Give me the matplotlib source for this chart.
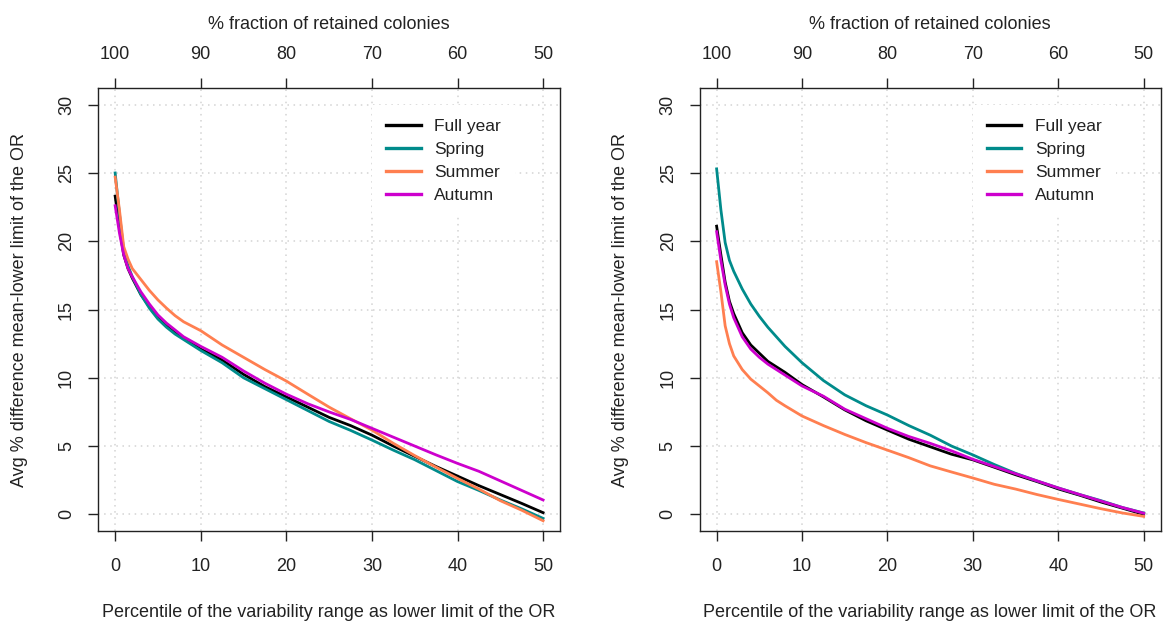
import matplotlib
matplotlib.use("Agg")
import matplotlib.pyplot as plt

plt.rcParams['font.family'] = ['Liberation Sans', 'DejaVu Sans']

# Percentile of the variability range (x)
percentile = [0, 0.5, 1, 1.5, 2, 3, 4, 5, 6, 7, 8, 10, 12.5, 15, 17.5, 20,
              22.5, 25, 27.5, 30, 32.5, 35, 37.5, 40, 42.5, 45, 47.5, 50]

# Left panel series
left_full_year = [23.3, 21.0, 19.0, 18.0, 17.3, 16.1, 15.2, 14.4, 13.8, 13.3, 12.9, 12.1, 11.3, 10.25, 9.35, 8.6,
                  7.85, 7.1, 6.5, 5.8, 5.0, 4.25, 3.5, 2.8, 2.1, 1.45, 0.8, 0.12]
left_spring = [25.0, 22.0, 19.3, 18.2, 17.4, 16.1, 15.1, 14.3, 13.7, 13.2, 12.8, 12.0, 11.1, 10.0, 9.2, 8.4,
               7.6, 6.8, 6.15, 5.44, 4.7, 4.0, 3.2, 2.4, 1.75, 1.05, 0.4, -0.3]
left_summer = [24.7, 22.3, 19.6, 18.7, 18.0, 17.2, 16.4, 15.7, 15.1, 14.55, 14.1, 13.45, 12.4, 11.5, 10.6, 9.76,
               8.8, 7.85, 7.0, 6.17, 5.2, 4.3, 3.45, 2.63, 1.85, 1.0, 0.3, -0.47]
left_autumn = [22.6, 20.6, 19.0, 18.0, 17.4, 16.3, 15.4, 14.6, 14.0, 13.5, 13.0, 12.3, 11.5, 10.5, 9.6, 8.8,
               8.1, 7.5, 6.95, 6.3, 5.65, 5.0, 4.35, 3.73, 3.15, 2.45, 1.75, 1.05]

# Right panel series
right_full_year = [21.1, 19.0, 17.0, 15.6, 14.7, 13.3, 12.4, 11.8, 11.2, 10.8, 10.4, 9.5, 8.6, 7.65, 6.85, 6.17,
                   5.5, 4.95, 4.4, 3.99, 3.45, 2.9, 2.4, 1.86, 1.4, 0.9, 0.45, 0.0]
right_spring = [25.3, 22.3, 19.9, 18.6, 17.8, 16.5, 15.4, 14.5, 13.7, 13.0, 12.3, 11.1, 9.8, 8.75, 7.95, 7.27,
                6.5, 5.8, 5.0, 4.35, 3.65, 3.0, 2.45, 1.93, 1.45, 1.0, 0.5, 0.1]
right_summer = [18.5, 16.3, 13.8, 12.5, 11.6, 10.6, 9.9, 9.4, 8.9, 8.35, 7.95, 7.2, 6.5, 5.85, 5.25, 4.7,
                4.15, 3.55, 3.1, 2.66, 2.2, 1.85, 1.45, 1.09, 0.75, 0.41, 0.1, -0.15]
right_autumn = [20.7, 18.6, 16.8, 15.4, 14.4, 13.0, 12.1, 11.5, 11.0, 10.6, 10.2, 9.4, 8.65, 7.7, 7.0, 6.3,
                5.7, 5.2, 4.65, 4.03, 3.5, 2.97, 2.45, 1.93, 1.45, 0.97, 0.5, 0.08]

series_names = ["Full year", "Spring", "Summer", "Autumn"]
series_colors = ["#000000", "#008B8B", "#FF7F50", "#CD00CD"]

x_ticks = [0, 10, 20, 30, 40, 50]
y_ticks = [0, 5, 10, 15, 20, 25, 30]
retained_ticks = [100, 90, 80, 70, 60, 50]

fig = plt.figure(figsize=(11.63, 6.21), dpi=100)

panels = [
    ([0.0843, 0.1454, 0.3974, 0.7124], [left_full_year, left_spring, left_summer, left_autumn]),
    ([0.6015, 0.1454, 0.3966, 0.7124], [right_full_year, right_spring, right_summer, right_autumn]),
]

FS = 13
TXT = "#222222"
for pos, data in panels:
    ax = fig.add_axes(pos)
    ax.set_xlim(-2, 52)
    ax.set_ylim(-1.2, 31.2)
    ax.set_axisbelow(True)
    ax.grid(True, linestyle=(0, (1, 3)), color="#D3D3D3", linewidth=1.1)
    for vals, name, col in zip(data, series_names, series_colors):
        ax.plot(percentile, vals, color=col, lw=2.0, label=name, zorder=3)
    ax.set_xticks(x_ticks)
    ax.set_yticks(y_ticks)
    ax.tick_params(axis='both', direction='out', length=7.5, width=1.0,
                   labelsize=FS, color=TXT, labelcolor=TXT)
    ax.tick_params(axis='x', pad=12)
    ax.tick_params(axis='y', pad=9)
    for lab in ax.get_yticklabels():
        lab.set_rotation(90)
        lab.set_va('center')
    for s in ax.spines.values():
        s.set_linewidth(1.0)
        s.set_color(TXT)
    ax.set_xlabel("Percentile of the variability range as lower limit of the OR",
                  fontsize=FS, color=TXT, labelpad=21)
    ax.set_ylabel("Avg % difference mean-lower limit of the OR",
                  fontsize=FS, color=TXT, labelpad=22)

    top = ax.secondary_xaxis('top', functions=(lambda v: 100 - v, lambda v: 100 - v))
    top.set_xticks(retained_ticks)
    top.tick_params(direction='out', length=7.5, width=1.0, labelsize=FS,
                    color=TXT, labelcolor=TXT, pad=11)
    top.spines['top'].set_visible(False)
    top.set_xlabel("% fraction of retained colonies", fontsize=FS, color=TXT, labelpad=12)

    leg = ax.legend(loc='upper left', bbox_to_anchor=(30, 30), bbox_transform=ax.transData,
                    borderaxespad=0, frameon=True, fancybox=False, facecolor='white',
                    edgecolor='none', framealpha=1, fontsize=12.5, handlelength=2.0,
                    handletextpad=0.8, labelspacing=0.45, borderpad=0.8)
    for line in leg.get_lines():
        line.set_linewidth(2.4)
    for t in leg.get_texts():
        t.set_color(TXT)

fig.savefig("out.png", dpi=100)
